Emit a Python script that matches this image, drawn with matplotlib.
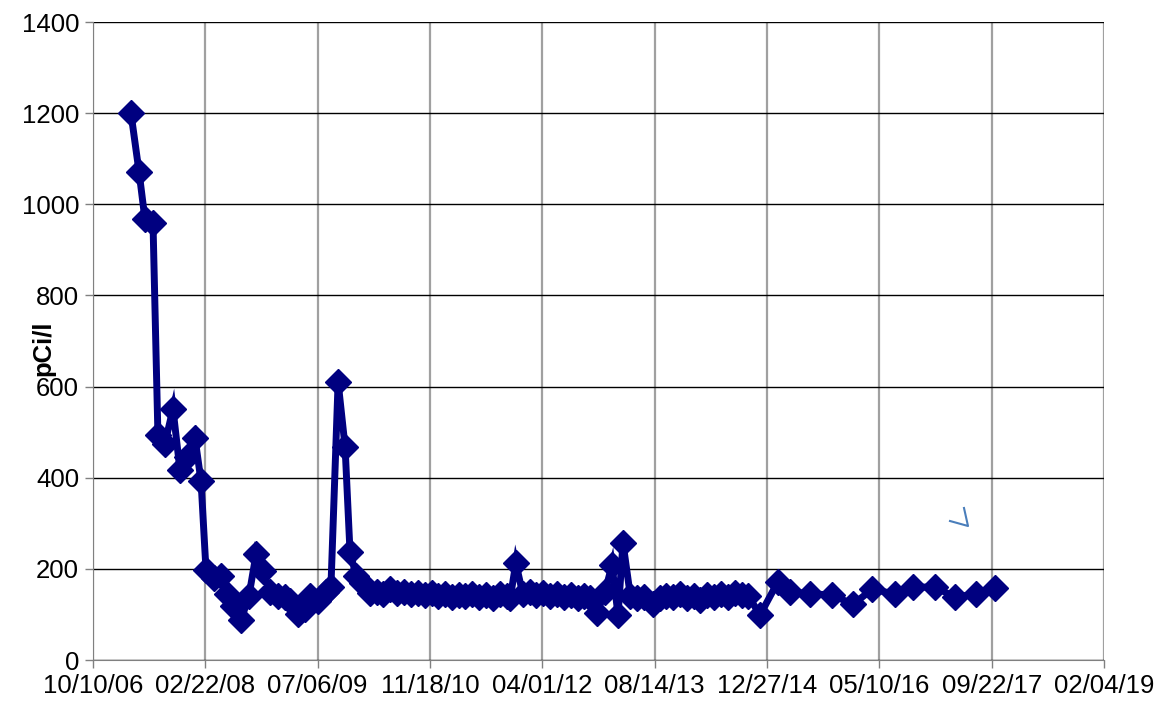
import matplotlib
matplotlib.use("Agg")
import matplotlib.pyplot as plt
import matplotlib.dates as mdates
from matplotlib.lines import Line2D
from datetime import datetime

plt.rcParams['font.family'] = ['Liberation Sans', 'DejaVu Sans']

# sample dates and readings (pCi/l)
dates = [
    "2007-03-28", "2007-05-03", "2007-05-29", "2007-07-04", "2007-07-26", "2007-08-26",
    "2007-10-01", "2007-11-01", "2007-12-02", "2008-01-07", "2008-02-03", "2008-02-25",
    "2008-04-01", "2008-05-02", "2008-05-28", "2008-06-24", "2008-07-30", "2008-09-03",
    "2008-10-05", "2008-11-05", "2008-12-06", "2009-01-10", "2009-02-11", "2009-03-05",
    "2009-04-09", "2009-05-11", "2009-06-02", "2009-07-07", "2009-08-12", "2009-09-03",
    "2009-10-05", "2009-11-05", "2009-11-27", "2009-12-24", "2010-01-19", "2010-02-24",
    "2010-03-25", "2010-04-25", "2010-05-25", "2010-06-25", "2010-07-25", "2010-08-25",
    "2010-09-25", "2010-10-25", "2010-11-25", "2010-12-25", "2011-01-25", "2011-02-25",
    "2011-03-25", "2011-04-25", "2011-05-25", "2011-06-25", "2011-07-25", "2011-08-25",
    "2011-09-25", "2011-10-25", "2011-11-10", "2011-12-05", "2012-01-05", "2012-02-05",
    "2012-03-05", "2012-04-05", "2012-05-05", "2012-06-05", "2012-07-05", "2012-08-05",
    "2012-09-05", "2012-10-05", "2012-11-01", "2012-11-30", "2013-01-05", "2013-02-05",
    "2013-03-04", "2013-03-26", "2013-04-28", "2013-05-28", "2013-06-28", "2013-08-07",
    "2013-09-05", "2013-10-05", "2013-11-05", "2013-12-05", "2014-01-05", "2014-02-05",
    "2014-03-05", "2014-04-05", "2014-05-05", "2014-06-05", "2014-07-05", "2014-08-05",
    "2014-09-05", "2014-10-05", "2014-11-26", "2015-02-14", "2015-04-08", "2015-07-06",
    "2015-10-12", "2016-01-14", "2016-04-07", "2016-07-19", "2016-10-07", "2017-01-13",
    "2017-04-12", "2017-07-14", "2017-10-07",
]
values = [
    1200, 1071, 968, 960, 494, 475,
    551, 417, 445, 487, 392, 197,
    180, 184, 145, 118, 88, 140,
    233, 195, 150, 140, 138, 130,
    100, 112, 140, 130, 150, 160,
    610, 468, 237, 185, 168, 147,
    150, 145, 155, 148, 150, 145,
    147, 142, 148, 140, 145, 138,
    143, 140, 145, 138, 142, 137,
    145, 140, 135, 213, 145, 150,
    142, 148, 140, 145, 138, 143,
    137, 140, 135, 103, 150, 208,
    99, 257, 140, 135, 138, 122,
    135, 140, 138, 145, 135, 140,
    132, 143, 138, 145, 138, 148,
    142, 140, 99, 172, 150, 145,
    143, 122, 155, 145, 160, 160,
    138, 145, 158,
]

tick_labels = ["10/10/06", "02/22/08", "07/06/09", "11/18/10", "04/01/12",
               "08/14/13", "12/27/14", "05/10/16", "09/22/17", "02/04/19"]
y_ticks = [0, 200, 400, 600, 800, 1000, 1200, 1400]

x = [mdates.date2num(datetime.strptime(d, "%Y-%m-%d")) for d in dates]
xt = [mdates.date2num(datetime.strptime(t, "%m/%d/%y")) for t in tick_labels]

fig = plt.figure(figsize=(11.61, 7.07), dpi=100)
ax = fig.add_axes([93/1161, 1-660/707, 1011/1161, 638/707])

ax.plot(x, values, color="#000080", lw=5, marker="D", markersize=13,
        solid_joinstyle="miter", zorder=3)

ax.set_xlim(xt[0], xt[-1])
ax.set_ylim(0, 1400)
ax.set_xticks(xt)
ax.set_xticklabels(tick_labels)
ax.set_yticks(y_ticks)
ax.tick_params(labelsize=18.5, length=6, width=1, direction="out", color="#808080")
ax.tick_params(axis="x", pad=4)
ax.tick_params(axis="y", pad=4)

ax.grid(axis="y", color="black", lw=1)
ax.grid(axis="x", color="#a0a0a0", lw=1.6)
ax.set_axisbelow(True)
for s in ["top", "right"]:
    ax.spines[s].set_visible(False)
ax.spines["left"].set_color("#808080")
ax.spines["bottom"].set_color("#808080")

fig.text(43/1161, 1-348/707, "pCi/l", rotation=90, fontsize=18.5,
         fontweight="bold", ha="center", va="center")

# small stray mark on the original
fig.add_artist(Line2D([950/1161, 968/1161, 964/1161],
                      [1-521/707, 1-526/707, 1-508/707],
                      color="#4a7ebb", lw=1.5))

fig.savefig("out.png", dpi=100)
